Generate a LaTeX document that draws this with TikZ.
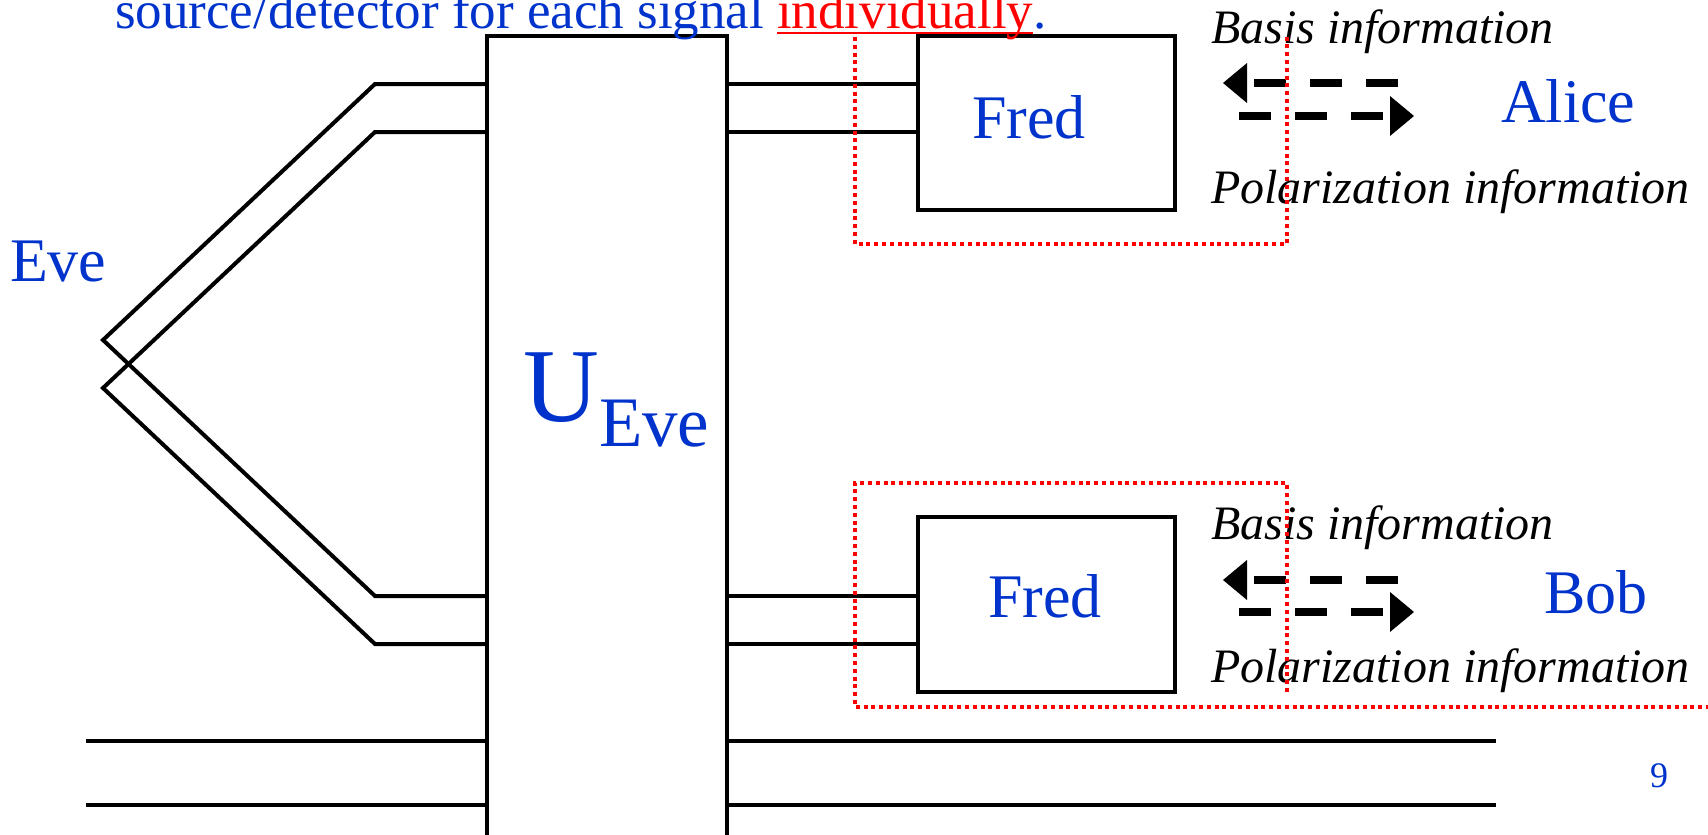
\documentclass[tikz,border=0pt]{standalone}
\usepackage{fontspec}
\setmainfont{Liberation Serif}
\usetikzlibrary{arrows.meta}
\definecolor{eveblue}{RGB}{0,51,204}
\begin{document}
\begin{tikzpicture}[x=1pt,y=-1pt,
  wire/.style={line width=4pt},
  boxnode/.style={draw, line width=4pt, inner sep=0pt, outer sep=0pt},
  reddot/.style={draw=red, line width=3.8pt, dash pattern=on 4pt off 3.8pt},
  darrow/.style={line width=8pt, dash pattern=on 32pt off 24pt, -{Triangle[length=24pt,width=40pt,line width=0pt]}},
  lbl/.style={inner sep=0pt, outer sep=0pt, anchor=base west, text=eveblue},
  info/.style={inner sep=0pt, outer sep=0pt, anchor=base west, font=\fontsize{48}{56}\selectfont\itshape},
  big/.style={font=\fontsize{62}{72}\selectfont},
  toptxt/.style={font=\fontsize{53}{60}\selectfont}
]
\clip (0,0) rectangle (1708,835);

% boxes
\node[boxnode, minimum width=240pt, minimum height=880pt] (U) at (607,476) {};
\node[boxnode, minimum width=257pt, minimum height=174pt] (FA) at (1046.5,123) {};
\node[boxnode, minimum width=257pt, minimum height=175pt] (FB) at (1046.5,604.5) {};

% helper coordinates
\coordinate (y1) at (0,84);
\coordinate (y2) at (0,132);
\coordinate (y3) at (0,596);
\coordinate (y4) at (0,644);
\coordinate (a1) at (375,84);
\coordinate (v1) at (103,340);
\coordinate (b1) at (375,596);
\coordinate (a2) at (375,132);
\coordinate (v2) at (103,388);
\coordinate (b2) at (375,644);
\coordinate (L1) at (86,741);
\coordinate (L2) at (86,805);
\coordinate (R1) at (1496,741);
\coordinate (R2) at (1496,805);

% Eve's crossing wires
\draw[wire] (U.west |- y1) -- (a1) -- (v1) -- (b1) -- (U.west |- y3);
\draw[wire] (U.west |- y2) -- (a2) -- (v2) -- (b2) -- (U.west |- y4);

% wires to Fred
\draw[wire] (U.east |- y1) -- (FA.west |- y1);
\draw[wire] (U.east |- y2) -- (FA.west |- y2);
\draw[wire] (U.east |- y3) -- (FB.west |- y3);
\draw[wire] (U.east |- y4) -- (FB.west |- y4);

% bottom wires
\draw[wire] (L1) -- (U.west |- L1);
\draw[wire] (L2) -- (U.west |- L2);
\draw[wire] (U.east |- R1) -- (R1);
\draw[wire] (U.east |- R2) -- (R2);

% dashed arrows
\coordinate (p1s) at (1398,83);  \coordinate (p1e) at (1223,83);
\coordinate (p2s) at (1239,116); \coordinate (p2e) at (1414,116);
\coordinate (p3s) at (1398,580); \coordinate (p3e) at (1223,580);
\coordinate (p4s) at (1239,612); \coordinate (p4e) at (1414,612);
\draw[darrow] (p1s) -- (p1e);
\draw[darrow] (p2s) -- (p2e);
\draw[darrow] (p3s) -- (p3e);
\draw[darrow] (p4s) -- (p4e);

% texts
\node[lbl, toptxt] (t1) at (115,28) {source/detector for each signal};
\node[inner sep=0pt, outer sep=0pt, anchor=base west, text=red, toptxt] (t2) at ([xshift=13.25pt]t1.base east) {individually};
\node[lbl, toptxt] (t3) at (t2.base east) {.};
\draw[red, line width=2.5pt] ([yshift=-5pt]t2.base west) -- ([yshift=-5pt]t2.base east);

\node[info] (ba) at (1211,43) {Basis information};
\node[info] (pa) at (1211,203) {Polarization information};
\node[info] (bb) at (1211,539) {Basis information};
\node[info] (pb) at (1211,682) {Polarization information};

\node[lbl, big] (alice) at (1501,122) {Alice};
\node[lbl, big] (bob) at (1544,613) {Bob};
\node[lbl, big] (fa) at (972,138) {Fred};
\node[lbl, big] (fb) at (988,617) {Fred};
\node[lbl, big] (eve) at (10,281) {Eve};
\node[lbl, font=\fontsize{105}{120}\selectfont] (uu) at (523,421) {U};
\node[lbl, font=\fontsize{71}{80}\selectfont] (ue) at (599,446) {Eve};
\node[lbl, font=\fontsize{36}{42}\selectfont] (pg) at (1650,787) {9};

% red dotted frames
\draw[reddot] (855,37) -- (855,244) -- (1287,244) -- (1287,37);
\draw[reddot] (1287,692) -- (1287,483) -- (855,483) -- (855,707) -- (1712,707);
\end{tikzpicture}
\end{document}
